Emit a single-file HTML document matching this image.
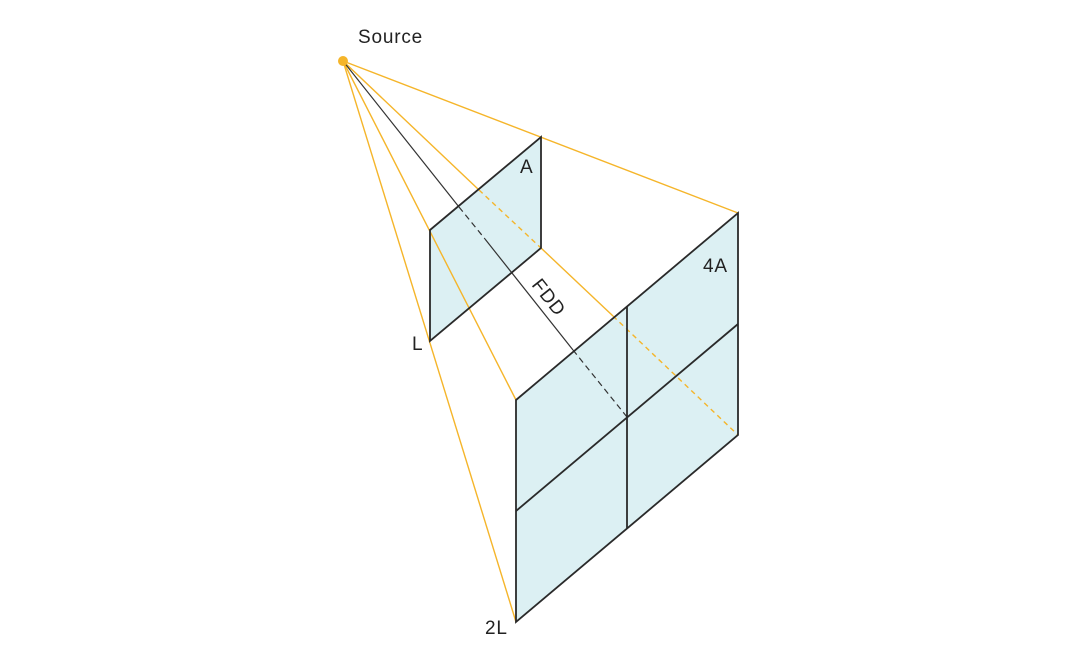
<!DOCTYPE html>
<html><head><meta charset="utf-8"><style>
html,body{margin:0;padding:0;background:#fff;}
svg{display:block;}
text{font-family:"Liberation Sans",sans-serif;fill:#222;font-size:19px;letter-spacing:0.8px;}
</style></head><body>
<svg width="1080" height="646" viewBox="0 0 1080 646" xmlns="http://www.w3.org/2000/svg">
<polygon points="430,230 541,137 541,248 430,341" fill="#dcf0f3"/>
<polygon points="516,400 738,213 738,435 516,622" fill="#dcf0f3"/>
<g stroke="#f5b52a" stroke-width="1.4" fill="none">
<line x1="343" y1="61" x2="738" y2="213"/>
<line x1="343" y1="61" x2="516" y2="400"/>
<line x1="343" y1="61" x2="516" y2="622"/>
<line x1="343" y1="61" x2="479" y2="190"/>
<line x1="479" y1="190" x2="541" y2="248" stroke-dasharray="5,4"/>
<line x1="541" y1="248" x2="613" y2="316"/>
<line x1="613" y1="316" x2="738" y2="435" stroke-dasharray="5,4"/>
</g>
<g stroke="#333" stroke-width="1.2" fill="none">
<line x1="343" y1="61" x2="459" y2="207"/>
<line x1="459" y1="207" x2="485" y2="239" stroke-dasharray="6,4"/>
<line x1="485" y1="239" x2="573" y2="350"/>
<line x1="573" y1="350" x2="627" y2="417" stroke-dasharray="6,4"/>
</g>
<g stroke="#2a2a2a" stroke-width="1.8" fill="none">
<polygon points="430,230 541,137 541,248 430,341"/>
<polygon points="516,400 738,213 738,435 516,622"/>
<line x1="627" y1="306" x2="627" y2="528"/>
<line x1="516" y1="511" x2="738" y2="324"/>
</g>
<circle cx="343" cy="61" r="5" fill="#f5b52a"/>
<text x="358" y="43">Source</text>
<text x="520" y="173">A</text>
<text x="412" y="350">L</text>
<text x="703" y="272">4A</text>
<text x="485" y="634">2L</text>
<text x="0" y="0" transform="translate(531,285) rotate(51.5)">FDD</text>
</svg>
</body></html>
